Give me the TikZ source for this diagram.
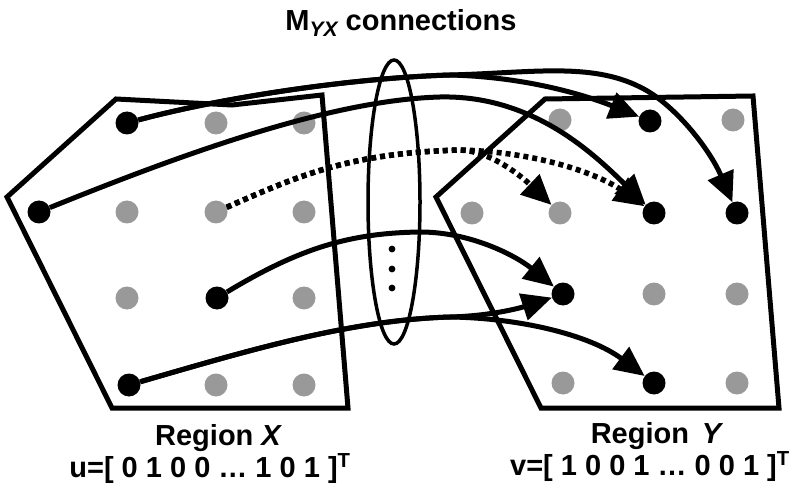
\documentclass[tikz,border=0pt]{standalone}
\usepackage{fontspec}
\setmainfont{Liberation Sans}
\usetikzlibrary{arrows.meta,shapes.geometric}
\definecolor{dotgray}{RGB}{153,153,153}
\begin{document}
\begin{tikzpicture}[x=1pt,y=-1pt,
  blk/.style={circle,fill=black,inner sep=0pt,minimum size=23pt},
  gry/.style={circle,fill=dotgray,inner sep=0pt,minimum size=23pt},
  region/.style={line width=5pt,line join=miter},
  link/.style={line width=5pt,-{Triangle[length=30pt,width=27pt]}},
  dotlink/.style={link,line width=5.5pt,dash pattern=on 5pt off 4pt},
  lbl/.style={font=\fontsize{29}{32}\selectfont\bfseries,inner sep=0pt}]
\useasboundingbox (0,0) rectangle (806,497);

% the two regions
\draw[region] (116,99) -- (232,105) -- (322,95) -- (348,408) -- (112,408) -- (7,197) -- cycle;
\draw[region] (545,99) -- (753,96) -- (779,408) -- (541,408) -- (436,197) -- cycle;

% bundle of connections
\node[draw,ellipse,line width=3.5pt,inner sep=0pt,minimum width=52pt,minimum height=284pt] (bundle) at (394,202) {};
\fill (392,249) circle (3.4) (392,269) circle (3.4) (392,288) circle (3.4);

% units of region X
\node[blk] (x11) at (127,123) {};
\node[gry] (x12) at (216,123) {};
\node[gry] (x13) at (304,123) {};
\node[blk] (x20) at (39,212) {};
\node[gry] (x21) at (127,212) {};
\node[gry] (x22) at (216,212) {};
\node[gry] (x23) at (304,212) {};
\node[gry] (x31) at (127,298) {};
\node[blk] (x32) at (217,298) {};
\node[gry] (x33) at (304,298) {};
\node[blk] (x41) at (129,385) {};
\node[gry] (x42) at (216,385) {};
\node[gry] (x43) at (304,385) {};

% units of region Y
\node[gry] (y11) at (560,120) {};
\node[blk] (y12) at (650,121) {};
\node[gry] (y13) at (733,120) {};
\node[gry] (y20) at (472,213) {};
\node[gry] (y21) at (560,213) {};
\node[blk] (y22) at (654,213) {};
\node[blk] (y23) at (737,213) {};
\node[blk] (y31) at (563,294) {};
\node[gry] (y32) at (654,294) {};
\node[gry] (y33) at (737,294) {};
\node[gry] (y41) at (563,383) {};
\node[blk] (y42) at (654,383) {};
\node[gry] (y43) at (737,383) {};

% connections X -> Y
\draw[link] (x11) .. controls (220,98) and (350,78) .. (450,75)
  .. controls (530,77) and (590,97) .. (y12);
\draw[link] (x11) .. controls (220,98) and (350,78) .. (450,75)
  .. controls (530,73) and (590,62) .. (640,87)
  .. controls (675,104) and (710,150) .. (y23);
\draw[link] (x20) .. controls (180,155) and (330,100) .. (440,97)
  .. controls (530,95) and (590,150) .. (y22);
\draw[dotlink] (x22) .. controls (300,175) and (350,153) .. (460,150)
  .. controls (490,151) and (520,175) .. (y21);
\draw[dotlink] (x22) .. controls (300,175) and (350,153) .. (460,150)
  .. controls (540,152) and (600,175) .. (y22);
\draw[link] (x32) .. controls (300,248) and (350,233) .. (420,232)
  .. controls (470,232) and (515,255) .. (y31);
\draw[link] (x41) .. controls (250,350) and (350,320) .. (450,317)
  .. controls (490,316) and (520,308) .. (y31);
\draw[link] (x41) .. controls (250,350) and (350,320) .. (450,317)
  .. controls (520,318) and (590,335) .. (y42);

% labels
\node[lbl,anchor=base] (title) at (401,31)
  {M\raisebox{-6pt}{\fontsize{21}{21}\selectfont\itshape YX} connections};
\node[lbl,anchor=base] (rx) at (218,445) {Region {\itshape X}};
\node[lbl,anchor=base] (ux) at (210,477) {u=[ 0 1 0 0 … 1 0 1 ]\textsuperscript{T}};
\node[lbl,anchor=base] (ry) at (656,443) {Region\, {\itshape Y}};
\node[lbl,anchor=base] (vy) at (650,475) {v=[ 1 0 0 1 … 0 0 1 ]\textsuperscript{T}};
\end{tikzpicture}
\end{document}
